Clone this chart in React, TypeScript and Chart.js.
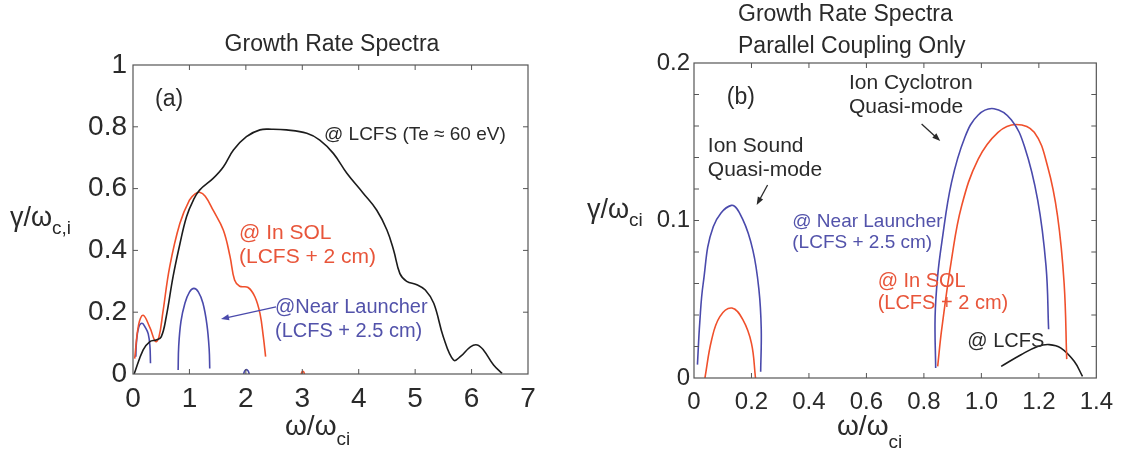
import React, { useEffect, useRef } from 'react';
import { Chart, registerables } from 'chart.js';

Chart.register(...registerables);

const FONT = "'Liberation Sans', Arial, Helvetica, sans-serif";
const BLACK = '#1c1c1c';
const RED = '#f0502c';
const BLUE = '#4a4aac';
const RED_TEXT = '#e8553a';
const BLUE_TEXT = '#5252aa';
const TEXT = '#2a2a2a';

// ---------- Panel (a) data ----------
const aTicksX = [0, 1, 2, 3, 4, 5, 6, 7];
const aTicksY = [0, 0.2, 0.4, 0.6, 0.8, 1];

const aLcfsX = [0.02, 0.18, 0.3, 0.41, 0.5, 0.59, 0.71, 0.83, 0.95, 1.07, 1.18, 1.42, 1.6, 1.78, 2.01, 2.25, 2.46, 2.72, 3.08, 3.31, 3.55, 3.79, 4.08, 4.32, 4.5, 4.62, 4.73, 4.85, 5.03, 5.18, 5.33, 5.5, 5.68, 5.8, 5.98, 6.1, 6.21, 6.39, 6.54];
const aLcfsY = [0, 0.078, 0.105, 0.11, 0.12, 0.186, 0.315, 0.42, 0.51, 0.563, 0.595, 0.633, 0.67, 0.725, 0.768, 0.79, 0.792, 0.79, 0.779, 0.757, 0.714, 0.65, 0.585, 0.53, 0.466, 0.4, 0.325, 0.3, 0.289, 0.272, 0.229, 0.12, 0.045, 0.056, 0.088, 0.094, 0.078, 0.029, 0.002];

const aSolX = [0.03, 0.1, 0.18, 0.3, 0.4, 0.46, 0.53, 0.65, 0.83, 1.0, 1.1, 1.18, 1.28, 1.42, 1.6, 1.72, 1.8, 1.89, 2.04, 2.16, 2.25, 2.31, 2.35];
const aSolY = [0.05, 0.16, 0.19, 0.15, 0.105, 0.12, 0.2, 0.347, 0.487, 0.563, 0.583, 0.588, 0.575, 0.53, 0.466, 0.38, 0.304, 0.284, 0.28, 0.25, 0.196, 0.12, 0.056];
const aSolBumpX = [2.98, 3.0, 3.02, 3.04];
const aSolBumpY = [0, 0.008, 0.008, 0];

const aNear1X = [0.05, 0.06, 0.1, 0.16, 0.22, 0.27, 0.3, 0.31];
const aNear1Y = [0.056, 0.1, 0.15, 0.164, 0.15, 0.13, 0.09, 0.035];
const aNear2X = [0.8, 0.81, 0.85, 0.92, 1.0, 1.08, 1.16, 1.24, 1.31, 1.35, 1.36];
const aNear2Y = [0.013, 0.09, 0.17, 0.229, 0.265, 0.277, 0.265, 0.229, 0.16, 0.08, 0.018];
const aNear3X = [1.96, 1.98, 2.01, 2.04, 2.06];
const aNear3Y = [0, 0.01, 0.014, 0.01, 0];

// ---------- Panel (b) data ----------
const bTicksX = [0, 0.2, 0.4, 0.6, 0.8, 1.0, 1.2, 1.4];
const bTicksY = [0, 0.02, 0.04, 0.06, 0.08, 0.1, 0.12, 0.14, 0.16, 0.18, 0.2];
const bTicksYLabeled = [0, 0.1, 0.2];

const bNearSoundX = [0.012, 0.02, 0.032, 0.067, 0.13, 0.17, 0.205, 0.226, 0.234, 0.232];
const bNearSoundY = [0.0085, 0.035, 0.06, 0.096, 0.1096, 0.1005, 0.081, 0.056, 0.031, 0.004];
const bSolSoundX = [0.038, 0.061, 0.09, 0.132, 0.17, 0.2, 0.214];
const bSolSoundY = [0, 0.024, 0.039, 0.0444, 0.037, 0.022, 0];
const bNearCycX = [0.841, 0.839, 0.848, 0.862, 0.896, 0.943, 0.989, 1.044, 1.104, 1.15, 1.196, 1.225, 1.234];
const bNearCycY = [0.0063, 0.039, 0.065, 0.0857, 0.124, 0.153, 0.167, 0.171, 0.164, 0.147, 0.113, 0.071, 0.031];
const bSolCycX = [0.848, 0.862, 0.896, 0.931, 0.989, 1.058, 1.121, 1.184, 1.231, 1.265, 1.288, 1.297];
const bSolCycY = [0.0074, 0.031, 0.075, 0.109, 0.139, 0.156, 0.161, 0.156, 0.134, 0.103, 0.06, 0.012];
const bLcfsX = [1.069, 1.138, 1.196, 1.236, 1.277, 1.323, 1.352];
const bLcfsY = [0.0074, 0.0148, 0.02, 0.0212, 0.019, 0.0106, 0.001];

const zip = (xs: number[], ys: number[]) => xs.map((x, i) => ({ x, y: ys[i] }));

const line = (xs: number[], ys: number[], color: string) => ({
  data: zip(xs, ys),
  showLine: true,
  borderColor: color,
  backgroundColor: color,
  borderWidth: 1.6,
  pointRadius: 0,
  tension: 0.4,
  fill: false,
});

type TextItem = { text: string; x: number; y: number; color: string; size: number };
type Arrow = { x1: number; y1: number; x2: number; y2: number; color: string };
type PixText = { parts: { text: string; size: number; dy: number }[]; x: number; y: number; align?: string };

function drawRich(ctx: CanvasRenderingContext2D, item: PixText) {
  let total = 0;
  for (const p of item.parts) {
    ctx.font = `${p.size}px ${FONT}`;
    total += ctx.measureText(p.text).width;
  }
  let x = item.align === 'center' ? item.x - total / 2 : item.x;
  for (const p of item.parts) {
    ctx.font = `${p.size}px ${FONT}`;
    ctx.fillStyle = TEXT;
    ctx.textAlign = 'left';
    ctx.textBaseline = 'middle';
    ctx.fillText(p.text, x, item.y + p.dy);
    x += ctx.measureText(p.text).width;
  }
}

function decorPlugin(cfg: {
  texts: TextItem[];
  arrows: Arrow[];
  pix: PixText[];
  xTickVals: number[];
  yTickVals: number[];
}) {
  return {
    id: 'decor',
    afterDraw(chart: any) {
      const ctx: CanvasRenderingContext2D = chart.ctx;
      const { left, right, top, bottom } = chart.chartArea;
      const xs = chart.scales.x;
      const ys = chart.scales.y;
      ctx.save();
      ctx.strokeStyle = '#555';
      ctx.lineWidth = 1.2;
      ctx.strokeRect(left, top, right - left, bottom - top);
      const TL = 5;
      ctx.lineWidth = 1;
      ctx.beginPath();
      for (const v of cfg.xTickVals) {
        const px = xs.getPixelForValue(v);
        if (px <= left + 1 || px >= right - 1) continue;
        ctx.moveTo(px, bottom);
        ctx.lineTo(px, bottom - TL);
        ctx.moveTo(px, top);
        ctx.lineTo(px, top + TL);
      }
      for (const v of cfg.yTickVals) {
        const py = ys.getPixelForValue(v);
        if (py <= top + 1 || py >= bottom - 1) continue;
        ctx.moveTo(left, py);
        ctx.lineTo(left + TL, py);
        ctx.moveTo(right, py);
        ctx.lineTo(right - TL, py);
      }
      ctx.stroke();
      for (const t of cfg.texts) {
        ctx.font = `${t.size}px ${FONT}`;
        ctx.fillStyle = t.color;
        ctx.textAlign = 'left';
        ctx.textBaseline = 'middle';
        ctx.fillText(t.text, xs.getPixelForValue(t.x), ys.getPixelForValue(t.y));
      }
      for (const a of cfg.arrows) {
        const x1 = xs.getPixelForValue(a.x1);
        const y1 = ys.getPixelForValue(a.y1);
        const x2 = xs.getPixelForValue(a.x2);
        const y2 = ys.getPixelForValue(a.y2);
        const ang = Math.atan2(y2 - y1, x2 - x1);
        const hl = 8;
        const hw = 3;
        ctx.strokeStyle = a.color;
        ctx.fillStyle = a.color;
        ctx.lineWidth = 1.3;
        ctx.beginPath();
        ctx.moveTo(x1, y1);
        ctx.lineTo(x2 - hl * 0.8 * Math.cos(ang), y2 - hl * 0.8 * Math.sin(ang));
        ctx.stroke();
        ctx.beginPath();
        ctx.moveTo(x2, y2);
        ctx.lineTo(x2 - hl * Math.cos(ang) + hw * Math.sin(ang), y2 - hl * Math.sin(ang) - hw * Math.cos(ang));
        ctx.lineTo(x2 - hl * Math.cos(ang) - hw * Math.sin(ang), y2 - hl * Math.sin(ang) + hw * Math.cos(ang));
        ctx.closePath();
        ctx.fill();
      }
      for (const p of cfg.pix) drawRich(ctx, p);
      ctx.restore();
    },
  };
}

function buildChart(canvas: HTMLCanvasElement, o: any) {
  return new Chart(canvas, {
    type: 'scatter',
    data: { datasets: o.datasets },
    options: {
      animation: false,
      responsive: false,
      maintainAspectRatio: false,
      layout: { padding: o.padding },
      plugins: { legend: { display: false }, tooltip: { enabled: false }, title: { display: false } },
      scales: {
        x: {
          type: 'linear',
          min: o.xMin,
          max: o.xMax,
          afterFit: (s: any) => { s.height = o.xHeight; },
          afterBuildTicks: (s: any) => { s.ticks = o.xTickVals.map((v: number) => ({ value: v })); },
          grid: { display: false, drawTicks: false },
          border: { display: false },
          ticks: {
            font: { family: FONT, size: o.tickSize },
            color: TEXT,
            padding: o.xPad,
            maxRotation: 0,
            autoSkip: false,
            callback: o.xFmt,
          },
        },
        y: {
          type: 'linear',
          min: o.yMin,
          max: o.yMax,
          afterFit: (s: any) => { s.width = o.yWidth; },
          afterBuildTicks: (s: any) => { s.ticks = o.yTickVals.map((v: number) => ({ value: v })); },
          grid: { display: false, drawTicks: false },
          border: { display: false },
          ticks: {
            font: { family: FONT, size: o.tickSize },
            color: TEXT,
            padding: o.yPad,
            autoSkip: false,
            callback: o.yFmt,
          },
        },
      },
    },
    plugins: [decorPlugin(o)],
  } as any);
}

export default function App() {
  const leftRef = useRef<HTMLCanvasElement>(null);
  const rightRef = useRef<HTMLCanvasElement>(null);

  useEffect(() => {
    const left = buildChart(leftRef.current!, {
      datasets: [
        line(aLcfsX, aLcfsY, BLACK),
        line(aSolX, aSolY, RED),
        line(aSolBumpX, aSolBumpY, RED),
        line(aNear1X, aNear1Y, BLUE),
        line(aNear2X, aNear2Y, BLUE),
        line(aNear3X, aNear3Y, BLUE),
      ],
      padding: { top: 65, right: 32, left: 0, bottom: 0 },
      xMin: 0, xMax: 7, yMin: 0, yMax: 1,
      xHeight: 82, yWidth: 133,
      xTickVals: aTicksX, yTickVals: aTicksY,
      tickSize: 28, xPad: 8, yPad: 6,
      xFmt: (v: any) => String(v),
      yFmt: (v: any) => (v === 0 ? '0' : v === 1 ? '1' : Number(v).toFixed(1)),
      texts: [
        { text: '(a)', x: 0.39, y: 0.887, color: TEXT, size: 23 },
        { text: '@ LCFS (Te \u2248 60 eV)', x: 3.385, y: 0.773, color: TEXT, size: 19 },
        { text: '@ In SOL', x: 1.878, y: 0.456, color: RED_TEXT, size: 21 },
        { text: '(LCFS + 2 cm)', x: 1.878, y: 0.379, color: RED_TEXT, size: 21 },
        { text: '@Near Launcher', x: 2.516, y: 0.214, color: BLUE_TEXT, size: 20 },
        { text: '(LCFS + 2.5 cm)', x: 2.516, y: 0.136, color: BLUE_TEXT, size: 20 },
      ],
      arrows: [{ x1: 2.534, y1: 0.217, x2: 1.56, y2: 0.178, color: BLUE }],
      pix: [
        { parts: [{ text: 'Growth Rate Spectra', size: 23, dy: 0 }], x: 332, y: 45, align: 'center' },
        { parts: [{ text: '\u03c9/\u03c9', size: 28, dy: 0 }, { text: 'ci', size: 19, dy: 13 }], x: 285, y: 427 },
        { parts: [{ text: '\u03b3/\u03c9', size: 27, dy: 0 }, { text: 'c,i', size: 19, dy: 10 }], x: 10, y: 219 },
      ],
    });
    const right = buildChart(rightRef.current!, {
      datasets: [
        line(bNearSoundX, bNearSoundY, BLUE),
        line(bSolSoundX, bSolSoundY, RED),
        line(bNearCycX, bNearCycY, BLUE),
        line(bSolCycX, bSolCycY, RED),
        line(bLcfsX, bLcfsY, BLACK),
      ],
      padding: { top: 63, right: 24, left: 0, bottom: 0 },
      xMin: 0, xMax: 1.4, yMin: 0, yMax: 0.2,
      xHeight: 78, yWidth: 134,
      xTickVals: bTicksX, yTickVals: bTicksY,
      tickSize: 24, xPad: 10, yPad: 4,
      xFmt: (v: any) => (v === 0 ? '0' : Number(v).toFixed(1)),
      yFmt: (v: any) => {
        const n = Number(v);
        const hit = bTicksYLabeled.find((t) => Math.abs(t - n) < 1e-9);
        if (hit === undefined) return '';
        return hit === 0 ? '0' : hit.toFixed(1);
      },
      texts: [
        { text: '(b)', x: 0.114, y: 0.1778, color: TEXT, size: 23 },
        { text: 'Ion Cyclotron', x: 0.539, y: 0.1873, color: TEXT, size: 21 },
        { text: 'Quasi-mode', x: 0.539, y: 0.172, color: TEXT, size: 21 },
        { text: 'Ion Sound', x: 0.048, y: 0.1473, color: TEXT, size: 21 },
        { text: 'Quasi-mode', x: 0.048, y: 0.132, color: TEXT, size: 21 },
        { text: '@ Near Launcher', x: 0.342, y: 0.099, color: BLUE_TEXT, size: 19 },
        { text: '(LCFS + 2.5 cm)', x: 0.342, y: 0.0857, color: BLUE_TEXT, size: 19 },
        { text: '@ In SOL', x: 0.639, y: 0.061, color: RED_TEXT, size: 20 },
        { text: '(LCFS + 2 cm)', x: 0.639, y: 0.047, color: RED_TEXT, size: 20 },
        { text: '@ LCFS', x: 0.951, y: 0.0235, color: TEXT, size: 20 },
      ],
      arrows: [
        { x1: 0.792, y1: 0.1613, x2: 0.857, y2: 0.1505, color: TEXT },
        { x1: 0.256, y1: 0.1225, x2: 0.218, y2: 0.1098, color: TEXT },
      ],
      pix: [
        { parts: [{ text: 'Growth Rate Spectra', size: 23, dy: 0 }], x: 178, y: 15 },
        { parts: [{ text: 'Parallel Coupling Only', size: 23, dy: 0 }], x: 178, y: 47 },
        { parts: [{ text: '\u03c9/\u03c9', size: 28, dy: 0 }, { text: 'ci', size: 19, dy: 16 }], x: 277, y: 427 },
        { parts: [{ text: '\u03b3/\u03c9', size: 27, dy: 0 }, { text: 'ci', size: 19, dy: 10 }], x: 27, y: 211 },
      ],
    });
    return () => {
      left.destroy();
      right.destroy();
    };
  }, []);

  return (
    <div style={{ position: 'absolute', left: 0, top: 0, width: 1123, height: 456, background: '#fff' }}>
      <canvas ref={leftRef} width={560} height={456} style={{ position: 'absolute', left: 0, top: 0, width: 560, height: 456 }} />
      <canvas ref={rightRef} width={563} height={456} style={{ position: 'absolute', left: 560, top: 0, width: 563, height: 456 }} />
    </div>
  );
}
